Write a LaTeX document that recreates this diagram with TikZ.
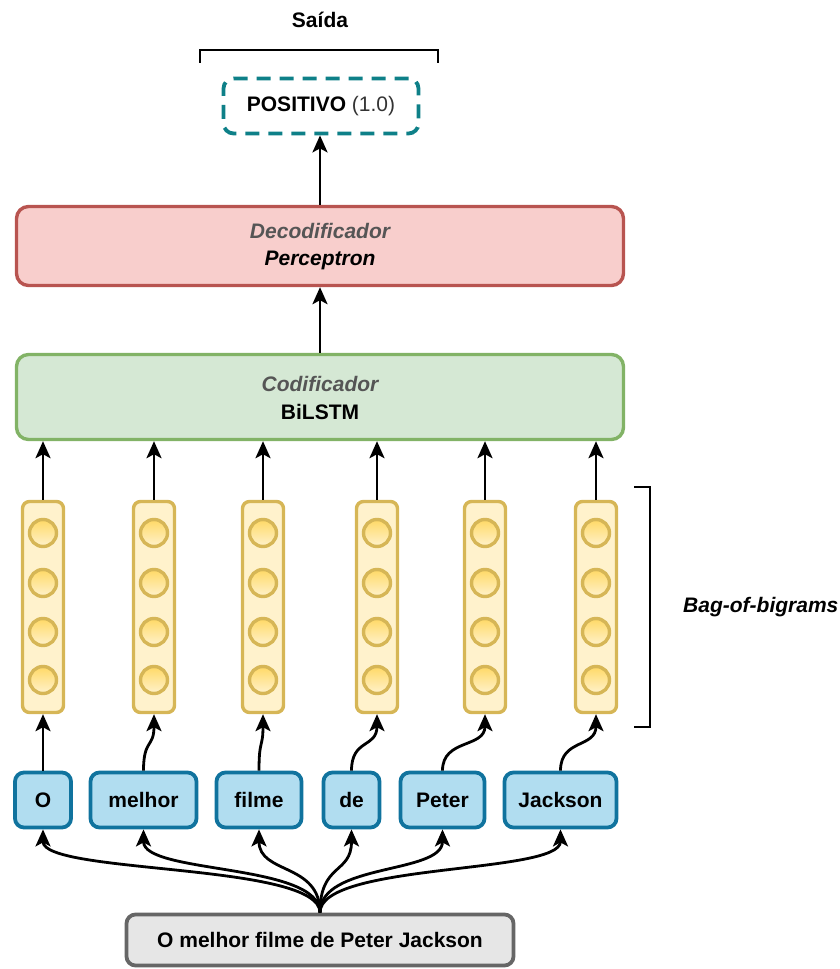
\documentclass[tikz,border=0pt]{standalone}
\usepackage{fontspec}
\setmainfont{Liberation Sans}
\usetikzlibrary{arrows.meta}

\definecolor{decfill}{HTML}{F8CECC}
\definecolor{decline}{HTML}{B85450}
\definecolor{encfill}{HTML}{D5E8D4}
\definecolor{encline}{HTML}{82B366}
\definecolor{wordfill}{HTML}{B1DDF0}
\definecolor{wordline}{HTML}{10739E}
\definecolor{goldfill}{HTML}{FFF2CC}
\definecolor{goldline}{HTML}{D6B656}
\definecolor{goldshade}{HTML}{FFD966}
\definecolor{srcfill}{HTML}{E6E6E6}
\definecolor{srcline}{HTML}{666666}
\definecolor{outline}{HTML}{0E8088}
\definecolor{subtitle}{HTML}{555555}
\definecolor{scoretext}{HTML}{333333}

\begin{document}
\begin{tikzpicture}[x=1pt,y=1pt,
  font=\fontsize{21}{25}\selectfont,
  layerbox/.style={draw, line width=3.4pt, rounded corners=12pt,
    minimum width=607pt, inner sep=0pt},
  wordbox/.style={draw=wordline, fill=wordfill, line width=3.8pt,
    rounded corners=9pt, minimum height=55pt, inner sep=0pt,
    font=\fontsize{21}{25}\selectfont\bfseries},
  vecbox/.style={draw=goldline, fill=goldfill, line width=3.4pt,
    rounded corners=7pt, minimum width=41pt, minimum height=211pt, inner sep=0pt},
  unit/.style={circle, draw=goldline, line width=3.4pt,
    top color=goldshade, bottom color=goldfill, minimum size=27pt, inner sep=0pt},
  flow/.style={line width=2.8pt, -{Stealth[length=17pt,width=15pt,inset=4pt]}},
  brace/.style={line width=2.6pt},
  txt/.style={inner sep=0pt}
]
\useasboundingbox (0,0) rectangle (839,969);

% output
\node[txt, font=\fontsize{21}{25}\selectfont\bfseries] (saida) at (320,949) {Saída};
\draw[brace] (200,906) -- (200,919) -- (438,919) -- (438,906);
\node[draw=outline, line width=3.8pt, dash pattern=on 14pt off 9pt,
  rounded corners=10pt, minimum width=195pt, minimum height=55pt, inner sep=0pt]
  (pos) at (321,863) {};
\node[txt] (postext) at (321,863) {\textbf{POSITIVO} \textcolor{scoretext}{(1.0)}};

% decoder and encoder
\node[layerbox, draw=decline, fill=decfill, minimum height=79pt] (dec) at (320,723) {};
\node[txt, text=subtitle, font=\fontsize{21}{25}\selectfont\bfseries\itshape] (dectitle) at (320,738) {Decodificador};
\node[txt, font=\fontsize{21}{25}\selectfont\bfseries\itshape] (decname) at (320,709) {Perceptron};

\node[layerbox, draw=encline, fill=encfill, minimum height=85pt] (enc) at (320,572) {};
\node[txt, text=subtitle, font=\fontsize{21}{25}\selectfont\bfseries\itshape] (enctitle) at (320,585) {Codificador};
\node[txt, font=\fontsize{21}{25}\selectfont\bfseries] (encname) at (320,557) {BiLSTM};

\draw[flow] (dec.north) -- (dec.north |- pos.south);
\draw[flow] (enc.north) -- (enc.north |- dec.south);

% word vectors
\foreach \i/\x in {1/43,2/154,3/263,4/377,5/485,6/596} {
  \node[vecbox] (v\i) at (\x,362) {};
  \foreach \j/\y in {1/436,2/386,3/337,4/289}
    \node[unit] (u\i\j) at (\x,\y) {};
  \draw[flow] (v\i.north) -- (v\i.north |- enc.south);
}

% bag-of-bigrams bracket
\draw[brace] (634,482) -- (650,482) -- (650,242) -- (634,242);
\node[txt, anchor=west, font=\fontsize{21}{25}\selectfont\bfseries\itshape] (bag) at (683,362) {Bag-of-bigrams};

% tokens
\node[wordbox, minimum width=56pt]  (w1) at (43,169)  {O};
\node[wordbox, minimum width=106pt] (w2) at (143.5,169) {melhor};
\node[wordbox, minimum width=85pt]  (w3) at (259,169)   {filme};
\node[wordbox, minimum width=56pt]  (w4) at (351.5,169) {de};
\node[wordbox, minimum width=84pt]  (w5) at (442.5,169) {Peter};
\node[wordbox, minimum width=112pt] (w6) at (560.5,169) {Jackson};

\draw[flow] (w1.north) -- (w1.north |- v1.south);
\foreach \i in {2,...,6}
  \draw[flow] (w\i.north) to[out=90,in=270,out distance=32pt,in distance=34pt] (v\i.south);

% input sentence
\node[draw=srcline, fill=srcfill, line width=3.8pt, rounded corners=9pt,
  minimum width=387pt, minimum height=51pt, inner sep=0pt,
  font=\fontsize{21}{25}\selectfont\bfseries] (src) at (320,29) {O melhor filme de Peter Jackson};

\foreach \i in {1,...,6}
  \draw[flow] (src.north) to[out=90,in=270,out distance=50pt,in distance=45pt] (w\i.south);
\end{tikzpicture}
\end{document}
